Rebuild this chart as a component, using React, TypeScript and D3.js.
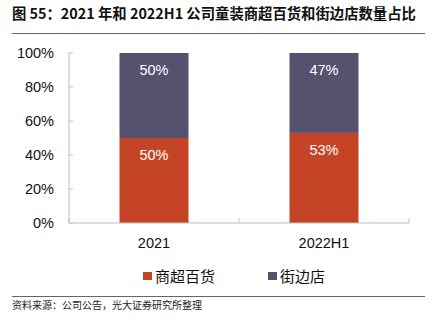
import React from "react";
import * as d3 from "d3";

const categories = ["2021", "2022H1"];
const seriesNames = ["商超百货", "街边店"];
const mallValues = [50, 53];
const streetValues = [50, 47];
const yTicks = [0, 20, 40, 60, 80, 100];
const colors = ["#C54426", "#54526F"];

export default function App() {
  const W = 445, H = 329;
  const y = d3.scaleLinear().domain([0, 100]).range([223, 53]);
  const stackData = categories.map((c, i) => ({ cat: c, mall: mallValues[i], street: streetValues[i] }));
  const stack = d3.stack<any>().keys(["mall", "street"])(stackData);
  const bw = 69;
  const band = 170;
  const font = "'Liberation Sans', Arial, Helvetica, sans-serif";
  const cjk = "'Noto Sans CJK SC', sans-serif";
  return (
    <svg width={W} height={H} style={{ position: "absolute", left: 0, top: 0, background: "#fff" }}>
      <text x={12} y={19} fontFamily={cjk} fontWeight="bold" fontSize={14.35} fill="#111">
        图 55：2021 年和 2022H1 公司童装商超百货和街边店数量占比
      </text>
      <line x1={12} x2={425} y1={33.5} y2={33.5} stroke="#666" strokeWidth={1} />
      {/* y axis */}
      <line x1={69} x2={69} y1={53} y2={223} stroke="#BFBFBF" />
      {yTicks.map((t) => (
        <g key={t}>
          <line x1={69} x2={73} y1={y(t)} y2={y(t)} stroke="#BFBFBF" />
          <text x={54} y={y(t)} dy="0.35em" textAnchor="end" fontFamily={font} fontSize={14.5} fill="#111">
            {t}%
          </text>
        </g>
      ))}
      {/* bars */}
      {stack.map((s, si) =>
        s.map((d, i) => {
          const cx = 69 + band * i + band / 2;
          return (
            <g key={si + "-" + i}>
              <rect x={cx - bw / 2} y={y(d[1])} width={bw} height={y(d[0]) - y(d[1])} fill={colors[si]} />
              <text x={cx} y={y(d[1]) + 17} dy="0.35em" textAnchor="middle" fontFamily={font} fontSize={14.5} fill="#fff">
                {(si === 0 ? mallValues[i] : streetValues[i]) + "%"}
              </text>
            </g>
          );
        })
      )}
      {/* x axis */}
      <line x1={69} x2={409} y1={223} y2={223} stroke="#BFBFBF" />
      {[0, 1, 2].map((k) => (
        <line key={k} x1={69 + band * k} x2={69 + band * k} y1={218} y2={223} stroke="#BFBFBF" />
      ))}
      {categories.map((c, i) => (
        <text key={c} x={69 + band * i + band / 2} y={243} dy="0.35em" textAnchor="middle" fontFamily={font} fontSize={14.5} fill="#111">
          {c}
        </text>
      ))}
      {/* legend */}
      {seriesNames.map((n, i) => {
        const lx = [143, 268][i];
        return (
          <g key={n}>
            <rect x={lx} y={272} width={9} height={8} fill={colors[i]} />
            <text x={lx + 12} y={277} dy="0.35em" fontFamily={cjk} fontSize={15} fill="#111">
              {n}
            </text>
          </g>
        );
      })}
      <line x1={12} x2={425} y1={296.5} y2={296.5} stroke="#666" strokeWidth={1} />
      <text x={12} y={305} dy="0.35em" fontFamily={cjk} fontSize={10} fill="#222">
        资料来源：公司公告，光大证券研究所整理
      </text>
    </svg>
  );
}
